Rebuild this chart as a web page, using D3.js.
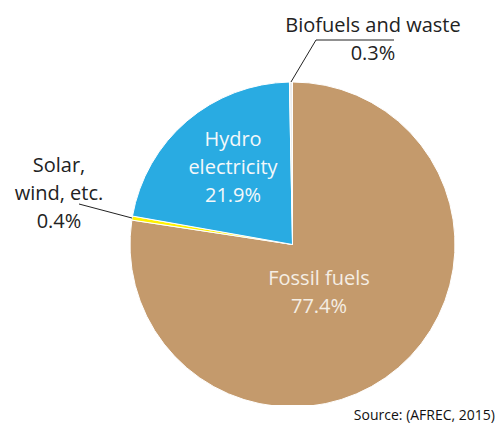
<!DOCTYPE html>
<html><head><meta charset="utf-8">
<script src="https://cdn.jsdelivr.net/npm/d3@7"></script>
<style>body{margin:0;background:#fff}svg{display:block}text{font-family:"Open Sans",sans-serif}</style>
</head><body><svg id="c" width="500" height="424"></svg>
<script>
const categories = ["Fossil fuels", "Solar, wind, etc.", "Hydro electricity", "Biofuels and waste"];
const values = [77.4, 0.4, 21.9, 0.3];
const valueLabels = ["77.4%", "0.4%", "21.9%", "0.3%"];
const colors = ["#C49A6C", "#FFF200", "#29ABE2", "#EDEDED"];

const svg = d3.select("#c");
const cx = 292.5, cy = 244.5, r = 162.5;
svg.append("defs").append("clipPath").attr("id","clip")
  .append("rect").attr("x",0).attr("y",0).attr("width",500).attr("height",405);

const pie = d3.pie().sort(null).value(d => d)(values);
const arc = d3.arc().innerRadius(0).outerRadius(r);
const g = svg.append("g").attr("clip-path","url(#clip)")
  .append("g").attr("transform",`translate(${cx},${cy})`);
g.selectAll("path").data(pie).join("path")
  .attr("d", arc).attr("fill",(d,i)=>colors[i])
  .attr("stroke","#fff").attr("stroke-width",1);

// leader lines
const edge = (a, rr) => [cx + rr*Math.sin(a), cy - rr*Math.cos(a)];
const pb = edge((pie[3].startAngle+pie[3].endAngle)/2, r);
svg.append("polyline").attr("points",[pb,[316,40],[394,40]].map(p=>p.join(",")).join(" "))
  .attr("fill","none").attr("stroke","#222").attr("stroke-width",1);
const ps = edge((pie[1].startAngle+pie[1].endAngle)/2, r);
svg.append("line").attr("x1",ps[0]).attr("y1",ps[1]).attr("x2",79).attr("y2",204)
  .attr("stroke","#222").attr("stroke-width",1);

function lines(x, y0, arr, fill, size){
  const t = svg.append("text").attr("text-anchor","middle").attr("fill",fill).attr("font-size",size);
  arr.forEach((s,i)=>t.append("tspan").attr("x",x).attr("y",y0+i*28).text(s));
}
lines(373, 32, ["Biofuels and waste", valueLabels[3]], "#222", 20);
lines(59, 172, ["Solar,", "wind, etc.", valueLabels[1]], "#222", 20);
lines(233, 146, ["Hydro", "electricity", valueLabels[2]], "#F4F8FA", 20);
lines(319, 285, [categories[0], valueLabels[0]], "#F5EEE4", 20);

svg.append("text").attr("x",495).attr("y",420).attr("text-anchor","end")
  .attr("font-size",14).attr("fill","#111").text("Source: (AFREC, 2015)");
</script></body></html>
